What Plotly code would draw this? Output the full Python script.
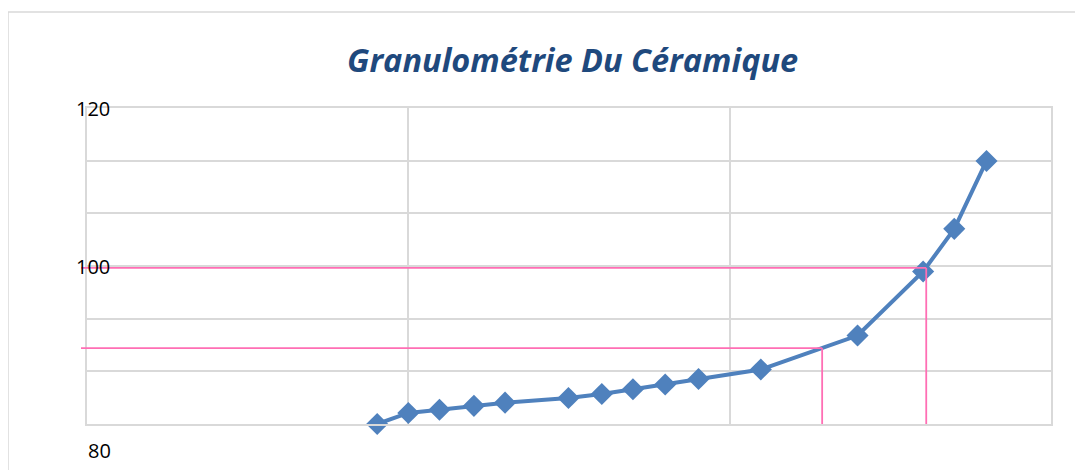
import math
import plotly.graph_objects as go

# Data (sieve opening, cumulative value)
sizes = [0.08, 0.1, 0.125, 0.16, 0.2, 0.315, 0.4, 0.5, 0.63, 0.8, 1.25, 2.5, 4.0, 5.0, 6.3]
values = [80.0, 81.4, 81.8, 82.3, 82.7, 83.3, 83.8, 84.4, 85.0, 85.7, 86.9, 91.2, 99.3, 104.7, 113.3]

# Reading lines (x value, y value)
read_x = [1.94, 4.09]
read_y = [89.6, 99.75]

y_labels = ["120", "100", "80"]
y_label_vals = [120, 100, 80]

x_min, x_max = 0.01, 10
y_min, y_max = 80, 120

OFF = 8  # page body margin
W, H = 1083 - OFF, 470 - OFF
ml, mr, mt, mb = 87 - OFF, 32, 108 - OFF, 46
pw, ph = W - ml - mr, H - mt - mb

def px_to_xpaper(px):
    return (px - OFF - ml) / pw

def py_to_ypaper(py):
    return (H - mb - (py - OFF)) / ph

def xval_to_paper(v):
    return (math.log10(v) - math.log10(x_min)) / (math.log10(x_max) - math.log10(x_min))

fig = go.Figure()
fig.add_trace(go.Scatter(
    x=sizes, y=values, mode="lines+markers",
    line=dict(color="#4F81BD", width=4),
    marker=dict(symbol="diamond", size=17, color="#4F81BD"),
    cliponaxis=False, showlegend=False,
))

shapes = []
pink = "#FF6EB4"
for xv, yv in zip(read_x, read_y):
    shapes.append(dict(type="line", xref="paper", yref="y",
                       x0=px_to_xpaper(81), x1=xval_to_paper(xv), y0=yv, y1=yv,
                       line=dict(color=pink, width=1.8)))
    shapes.append(dict(type="line", xref="x", yref="y",
                       x0=xv, x1=xv, y0=y_min - 0.25, y1=yv,
                       line=dict(color=pink, width=1.8)))
# outer chart border
bx = px_to_xpaper(8)
by = py_to_ypaper(12)
shapes.append(dict(type="line", xref="paper", yref="paper", x0=bx, x1=bx, y0=-0.3, y1=by,
                   line=dict(color="#D9D9D9", width=1.5)))
shapes.append(dict(type="line", xref="paper", yref="paper", x0=bx, x1=1.2, y0=by, y1=by,
                   line=dict(color="#D9D9D9", width=1.5)))

annotations = [
    dict(text="Granulométrie Du Céramique", xref="paper", yref="paper",
         x=px_to_xpaper(572), y=py_to_ypaper(59), showarrow=False,
         xanchor="center", yanchor="middle",
         font=dict(family="Open Sans", size=32.5, color="#1F497D", weight="bold", style="italic")),
    dict(text=y_labels[0], xref="paper", yref="y", x=px_to_xpaper(93), y=y_label_vals[0],
         showarrow=False, xanchor="center", yanchor="middle",
         font=dict(family="Open Sans", size=20, color="#000000")),
    dict(text=y_labels[1], xref="paper", yref="y", x=px_to_xpaper(93), y=y_label_vals[1],
         showarrow=False, xanchor="center", yanchor="middle",
         font=dict(family="Open Sans", size=20, color="#000000")),
    dict(text=y_labels[2], xref="paper", yref="paper", x=px_to_xpaper(99.5), y=py_to_ypaper(450),
         showarrow=False, xanchor="center", yanchor="middle",
         font=dict(family="Open Sans", size=20, color="#000000")),
]

fig.update_layout(
    width=W, height=H,
    margin=dict(l=ml, r=mr, t=mt, b=mb),
    paper_bgcolor="white", plot_bgcolor="white",
    shapes=shapes, annotations=annotations,
    xaxis=dict(type="log", range=[math.log10(x_min), math.log10(x_max)],
               showgrid=True, gridcolor="#D9D9D9", gridwidth=1.5,
               dtick=1, showticklabels=False, zeroline=False,
               showline=True, linecolor="#D9D9D9", linewidth=1.5, mirror=True, ticks=""),
    yaxis=dict(range=[y_min, y_max], tick0=y_min, dtick=(y_max - y_min) / 6,
               showgrid=True, gridcolor="#D9D9D9", gridwidth=1.5,
               showticklabels=False, zeroline=False,
               showline=True, linecolor="#D9D9D9", linewidth=1.5, mirror=True, ticks=""),
)

fig.write_html("out.html")
